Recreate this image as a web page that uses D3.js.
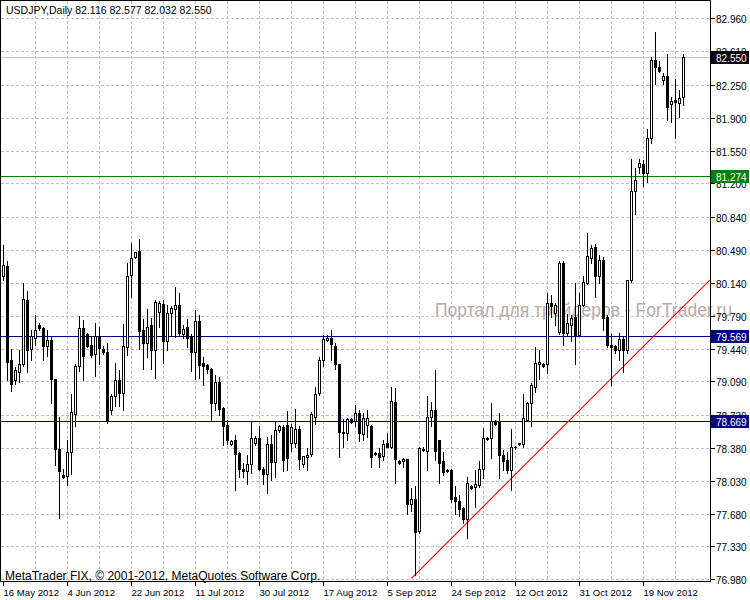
<!DOCTYPE html>
<html><head><meta charset="utf-8">
<script src="https://cdn.jsdelivr.net/npm/d3@7"></script>
<style>
body{margin:0;background:#fff}
svg{display:block}
text{font-family:"Liberation Sans",Arial,sans-serif}
</style>
</head><body>
<svg id="chart" width="750" height="600"></svg>
<script>
const titleText = "USDJPY,Daily";
const lastOHLC = [82.116, 82.577, 82.032, 82.550];
const footerText = "MetaTrader FIX, \u00a9 2001-2012, MetaQuotes Software Corp.";
const watermarkText = "Портал для трейдеров - ForTrader.ru";

const openP = [80.21,80.32,79.32,79.10,79.19,79.28,79.96,79.44,79.55,79.69,79.66,79.47,79.53,79.11,78.37,78.09,78.08,78.34,78.74,79.25,
79.66,79.60,79.48,79.38,79.57,79.44,79.40,78.78,78.93,79.10,78.97,79.46,80.22,80.42,80.48,79.64,79.50,79.69,79.42,79.83,
79.91,79.52,79.82,79.86,79.90,79.59,79.67,79.57,79.40,79.73,79.29,79.26,79.22,78.86,79.08,78.81,78.62,78.42,78.46,78.33,
78.16,78.13,78.21,78.43,78.49,78.16,78.10,78.42,78.23,78.57,78.60,78.62,78.43,78.43,78.58,78.21,78.28,78.32,78.71,78.97,
79.32,79.53,79.55,79.47,79.27,78.55,78.54,78.69,78.67,78.75,78.53,78.62,78.61,78.33,78.33,78.29,78.43,78.39,78.87,78.24,
78.24,78.26,77.78,77.84,77.49,78.36,78.35,78.71,78.78,78.46,78.24,78.15,78.14,77.86,77.81,77.74,77.62,77.97,77.96,77.99,
78.16,78.48,78.49,78.67,78.66,78.30,78.25,78.14,78.39,78.42,78.42,78.68,78.86,79.03,79.27,79.27,79.28,79.92,79.82,79.62,
80.35,79.61,79.69,79.78,79.58,79.90,80.14,80.40,80.52,80.21,80.38,79.78,79.48,79.47,79.42,79.54,79.42,80.17,81.12,81.37,
81.41,81.31,81.68,82.52,82.44,82.30,82.34,82.05,82.09,82.06,82.116];
const highP = [80.54,80.37,79.44,79.24,79.42,80.14,80.05,79.64,79.80,79.71,79.67,79.64,79.57,79.12,78.71,78.16,78.46,78.96,79.28,79.79,
79.74,79.61,79.57,79.71,79.67,79.47,79.50,78.96,79.29,79.21,79.70,80.35,80.57,80.47,80.61,79.75,79.86,79.77,79.96,79.95,
79.96,79.90,79.89,80.10,80.03,79.69,79.75,79.60,79.85,79.80,79.35,79.27,79.23,79.16,79.14,78.82,78.68,78.46,78.52,78.34,
78.22,78.30,78.67,78.51,78.61,78.18,78.50,78.52,78.66,78.63,78.62,78.77,78.64,78.79,78.61,78.29,78.38,78.76,79.03,79.35,
79.58,79.58,79.64,79.50,79.28,78.69,78.70,78.70,78.84,78.78,78.75,78.78,78.62,78.34,78.38,78.46,78.54,79.03,79.02,78.25,
78.27,78.26,77.95,77.97,78.39,78.39,78.93,78.87,79.21,78.47,78.34,78.16,78.16,77.97,77.88,77.75,78.07,77.98,78.15,78.24,
78.59,78.50,78.86,78.68,78.75,78.36,78.34,78.58,78.40,78.43,78.96,78.87,79.07,79.46,79.42,79.29,80.03,80.01,79.92,80.37,
80.37,79.81,79.80,80.14,80.03,80.21,80.67,80.54,80.55,80.44,80.42,79.80,79.60,79.48,79.61,79.57,80.17,81.46,81.36,81.46,
81.45,81.78,82.55,82.81,82.50,82.38,82.58,82.12,82.31,82.20,82.577];
const lowP = [80.17,79.10,78.99,79.06,79.08,79.25,79.19,79.32,79.48,79.64,79.32,79.36,78.86,78.20,77.63,78.06,77.98,78.10,78.61,79.20,
79.10,79.46,79.35,79.15,79.28,79.38,78.65,78.74,78.83,78.83,78.78,79.37,79.99,80.40,79.43,79.22,79.35,79.22,79.13,79.67,
79.29,79.42,79.57,79.56,79.57,79.55,79.46,79.20,79.12,79.13,79.05,79.18,78.68,78.78,78.73,78.41,78.42,78.41,77.93,78.07,
78.07,78.00,78.11,78.41,78.14,78.00,77.90,78.04,78.07,78.55,78.13,78.14,78.35,78.39,78.16,78.18,78.15,78.29,78.64,78.94,
79.25,79.52,79.32,79.22,78.28,78.39,78.46,78.65,78.61,78.45,78.47,78.50,78.18,78.31,78.18,78.25,78.39,78.38,78.01,78.21,
78.18,77.68,77.71,77.03,77.47,78.35,78.14,78.61,78.25,78.01,78.09,78.12,77.80,77.68,77.65,77.58,77.42,77.94,77.75,77.96,
78.06,78.47,78.27,78.63,78.06,78.15,78.11,77.93,78.37,78.41,78.39,78.67,78.61,78.98,79.12,79.24,79.18,79.78,79.69,79.60,
79.48,79.57,79.52,79.28,79.57,79.89,80.13,80.35,79.99,80.14,79.64,79.46,79.05,79.39,79.32,79.19,79.39,80.15,80.87,81.31,
81.17,81.22,81.63,82.26,82.39,82.26,81.88,81.85,81.68,81.91,82.032];
const closeP = [80.33,79.30,79.06,79.21,79.27,79.97,79.42,79.57,79.64,79.66,79.47,79.53,79.11,78.37,78.13,78.07,78.34,78.76,79.25,79.66,
79.36,79.47,79.37,79.57,79.45,79.40,78.67,78.93,79.10,78.97,79.47,80.21,80.41,80.47,79.63,79.50,79.67,79.42,79.94,79.92,
79.52,79.82,79.87,79.90,79.61,79.65,79.55,79.40,79.73,79.26,79.25,79.22,78.86,79.08,78.80,78.61,78.46,78.45,78.32,78.16,
78.13,78.21,78.49,78.49,78.16,78.10,78.42,78.23,78.57,78.61,78.25,78.27,78.60,78.58,78.26,78.29,78.31,78.74,78.96,79.32,
79.54,79.55,79.49,79.28,78.55,78.54,78.69,78.66,78.75,78.54,78.70,78.70,78.28,78.32,78.28,78.42,78.39,78.88,78.26,78.22,
78.26,77.78,77.84,77.48,78.38,78.37,78.71,78.78,78.35,78.22,78.12,78.13,77.84,77.81,77.73,77.62,78.01,77.95,78.00,78.16,
78.49,78.49,78.67,78.64,78.30,78.24,78.14,78.39,78.39,78.43,78.70,78.86,79.05,79.29,79.30,79.25,79.92,79.89,79.90,80.35,
79.61,79.71,79.77,79.58,79.90,80.15,80.43,80.51,80.21,80.38,79.77,79.48,79.46,79.42,79.54,79.42,80.17,81.12,81.24,81.42,
81.31,81.68,82.52,82.44,82.40,82.34,82.01,82.08,82.07,82.11,82.550];

const dateLabels = ["16 May 2012","4 Jun 2012","22 Jun 2012","11 Jul 2012","30 Jul 2012","17 Aug 2012","5 Sep 2012","24 Sep 2012","12 Oct 2012","31 Oct 2012","19 Nov 2012"];
const dateLabelBars = [0,16,32,48,64,80,96,112,128,144,160];
const priceTicks = [82.960,82.610,82.250,81.900,81.550,81.200,80.840,80.490,80.140,79.790,79.440,79.090,78.730,78.380,78.030,77.680,77.330,76.980];
const levelPrices = [82.550, 81.274, 79.569, 78.669];
const trendBars = [102, 170];
const trendPrices = [76.99, 79.89];

const levelStyles = [
  {line:"#c0c0c0", box:"#000000"},
  {line:"#008000", box:"#008000"},
  {line:"#000080", box:"#000080"},
  {line:"#000080", box:"#000080"}
];

const N = openP.length;
const bars = d3.range(N).map(i => ({i, o:openP[i], h:highP[i], l:lowP[i], c:closeP[i]}));

const svg = d3.select("#chart");
const plotRight = 710, plotBottom = 581;

const x = d3.scaleBand().domain(d3.range(N)).range([1.5, 1.5 + N*4]).padding(0);
const cx = i => x(i) + x.bandwidth()/2;
const y = d3.scaleLinear().domain([76.98, 82.96]).range([579.3, 18.3]);
const py = v => Math.round(y(v));

svg.append("rect").attr("width",750).attr("height",600).attr("fill","#fff");

// grid
const grid = svg.append("g").attr("stroke","#c0c0c0").attr("stroke-dasharray","3,2").attr("shape-rendering","crispEdges");
priceTicks.forEach(t => {
  grid.append("line").attr("x1",1).attr("x2",plotRight).attr("y1",py(t)+0.5).attr("y2",py(t)+0.5);
});
d3.range(8, N, 8).forEach(i => {
  grid.append("line").attr("x1",cx(i)).attr("x2",cx(i)).attr("y1",1).attr("y2",plotBottom);
});

// watermark
svg.append("text").attr("x",435).attr("y",316).attr("font-size",17.5)
  .attr("fill","#b8aaaa").text(watermarkText);

// level lines
levelPrices.forEach((p,k) => {
  svg.append("line").attr("x1",1).attr("x2",plotRight).attr("y1",py(p)+0.5).attr("y2",py(p)+0.5)
    .attr("stroke",levelStyles[k].line).attr("stroke-width",1).attr("shape-rendering","crispEdges");
});

// trend line (ray to the right edge)
const tx1 = cx(trendBars[0]), ty1 = y(trendPrices[0]);
const tx2 = cx(trendBars[1]), ty2 = y(trendPrices[1]);
const slope = (ty2-ty1)/(tx2-tx1);
svg.append("line").attr("x1",tx1).attr("y1",ty1).attr("x2",plotRight).attr("y2",ty1 + slope*(plotRight-tx1))
  .attr("stroke","#ff0000").attr("stroke-width",1.1);

// candles
const cg = svg.append("g").attr("shape-rendering","crispEdges");
bars.forEach(b => {
  const c = cx(b.i);
  const yh = py(b.h), yl = py(b.l);
  cg.append("rect").attr("x",c-0.5).attr("y",yh).attr("width",1).attr("height",Math.max(1,yl-yh+1)).attr("fill","#000");
  const top = py(Math.max(b.o,b.c)), bot = py(Math.min(b.o,b.c));
  if (b.c > b.o) {
    cg.append("rect").attr("x",c-1).attr("y",top+0.5).attr("width",2).attr("height",Math.max(0,bot-top))
      .attr("fill","#fff").attr("stroke","#000").attr("stroke-width",1);
  } else {
    cg.append("rect").attr("x",c-1.5).attr("y",top).attr("width",3).attr("height",Math.max(1,bot-top+1)).attr("fill","#000");
  }
});

// frame
svg.append("rect").attr("x",0.5).attr("y",0.5).attr("width",plotRight).attr("height",plotBottom)
  .attr("fill","none").attr("stroke","#000").attr("shape-rendering","crispEdges");

// title & footer
svg.append("text").attr("x",6).attr("y",14).attr("font-size",10.5).attr("fill","#000")
  .text(titleText + "  " + lastOHLC.map(v => v.toFixed(3)).join(" "));
svg.append("text").attr("x",5).attr("y",580).attr("font-size",12).attr("fill","#000").text(footerText);

// right axis
const ax = svg.append("g");
priceTicks.forEach(t => {
  ax.append("line").attr("x1",plotRight+1).attr("x2",plotRight+5).attr("y1",py(t)+0.5).attr("y2",py(t)+0.5)
    .attr("stroke","#000").attr("shape-rendering","crispEdges");
  ax.append("text").attr("x",716).attr("y",py(t)+4.5).attr("font-size",10).attr("fill","#000").text(t.toFixed(3));
});
levelPrices.forEach((p,k) => {
  const yy = py(p);
  ax.append("rect").attr("x",711).attr("y",yy-6).attr("width",38).attr("height",13).attr("fill",levelStyles[k].box);
  ax.append("text").attr("x",716).attr("y",yy+4.5).attr("font-size",10).attr("fill","#fff").text(p.toFixed(3));
});

// bottom axis
dateLabelBars.forEach((bi,k) => {
  ax.append("line").attr("x1",cx(bi)).attr("x2",cx(bi)).attr("y1",plotBottom+1).attr("y2",plotBottom+5)
    .attr("stroke","#000").attr("shape-rendering","crispEdges");
  ax.append("text").attr("x",cx(bi)).attr("y",596).attr("font-size",9.6).attr("fill","#000").text(dateLabels[k]);
});
</script>
</body></html>
